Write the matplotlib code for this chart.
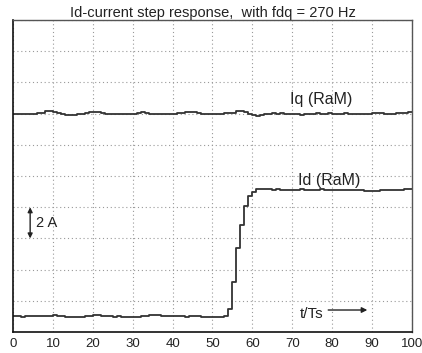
import matplotlib
matplotlib.use("Agg")
import matplotlib.pyplot as plt
import numpy as np

t_samples = list(range(0, 101))

iq_ram = [
    14.00, 14.00, 13.98, 14.00, 14.00, 13.99, 14.02, 14.05, 14.15, 14.15,
    14.12, 14.05, 13.95, 13.92, 13.92, 13.93, 13.95, 14.00, 14.05, 14.08,
    14.12, 14.10, 14.05, 14.00, 13.98, 13.97, 13.98, 13.98, 14.00, 13.98,
    14.00, 14.05, 14.08, 14.03, 14.00, 13.97, 13.95, 13.96, 13.97, 13.98,
    14.00, 14.02, 14.05, 14.08, 14.10, 14.08, 14.03, 14.00, 13.98, 13.98,
    14.00, 13.99, 14.00, 14.02, 14.03, 14.06, 14.15, 14.20, 14.10, 13.98,
    13.90, 13.85, 13.92, 13.97, 14.00, 14.02, 14.00, 14.03, 14.00, 13.98,
    13.96, 13.95, 13.92, 13.95, 13.98, 14.00, 14.02, 14.00, 14.01, 14.03,
    14.00, 13.98, 14.00, 14.02, 14.00, 13.98, 13.97, 13.99, 14.01, 14.00,
    14.03, 14.05, 14.02, 14.00, 13.98, 14.00, 14.02, 14.04, 14.06, 14.08,
    14.08,
]

id_ram = [
    1.00, 1.00, 0.99, 1.00, 1.00, 1.01, 1.00, 1.02, 1.04, 1.05,
    1.06, 1.05, 1.02, 0.98, 0.95, 0.95, 0.96, 0.97, 1.00, 1.05,
    1.08, 1.06, 1.03, 1.00, 1.00, 0.99, 1.00, 0.98, 0.97, 0.96,
    0.95, 0.97, 1.00, 1.04, 1.07, 1.08, 1.06, 1.03, 1.00, 1.00,
    1.00, 1.01, 1.00, 0.99, 1.00, 1.00, 1.00, 0.99, 0.98, 0.98,
    0.98, 0.98, 0.99, 1.00, 1.47, 3.20, 5.40, 6.86, 8.08, 8.70,
    9.00, 9.15, 9.20, 9.18, 9.15, 9.12, 9.14, 9.12, 9.10, 9.12,
    9.10, 9.12, 9.14, 9.10, 9.08, 9.10, 9.12, 9.14, 9.12, 9.10,
    9.10, 9.12, 9.10, 9.08, 9.10, 9.12, 9.10, 9.08, 9.06, 9.05,
    9.05, 9.07, 9.10, 9.12, 9.10, 9.08, 9.10, 9.12, 9.14, 9.15,
    9.15,
]

x_ticks = [0, 10, 20, 30, 40, 50, 60, 70, 80, 90, 100]
y_grid = [0, 2, 4, 6, 8, 10, 12, 14, 16, 18, 20]

plt.rcParams['font.family'] = ['Liberation Sans', 'DejaVu Sans']

fig = plt.figure(figsize=(4.22, 3.53), dpi=100)
ax = fig.add_axes([0.0308, 0.0595, 0.9455, 0.8835])

line_col = '#333333'
ax.step(t_samples, iq_ram, where='post', color=line_col, lw=1.3)
ax.step(t_samples, id_ram, where='post', color=line_col, lw=1.3)

ax.set_xlim(0, 100)
ax.set_ylim(0, 20)
ax.set_xticks(x_ticks)
ax.set_xticklabels([str(v) for v in x_ticks], fontsize=9.5, color='#222222')
ax.set_yticks(y_grid)
ax.set_yticklabels([])
ax.tick_params(axis='both', length=0, pad=4)
ax.grid(True, linestyle=(0, (1, 2.5)), color='#999999', linewidth=0.8)

for side in ['left', 'bottom']:
    ax.spines[side].set_color('#111111')
    ax.spines[side].set_linewidth(1.2)
for side in ['top', 'right']:
    ax.spines[side].set_color('#555555')
    ax.spines[side].set_linewidth(1.0)

ax.set_title('Id-current step response,  with fdq = 270 Hz', fontsize=10.5, color='#222222', pad=2)

ax.text(69.4, 14.9, 'Iq (RaM)', fontsize=11.5, color='#222222', va='center', ha='left')
ax.text(71.4, 9.74, 'Id (RaM)', fontsize=11.5, color='#222222', va='center', ha='left')
ax.text(5.8, 7.0, '2 A', fontsize=10.5, color='#222222', va='center', ha='left')
ax.annotate('', xy=(4.3, 8.0), xytext=(4.3, 6.0),
            arrowprops=dict(arrowstyle='<|-|>', color='#222222', lw=1.0,
                            mutation_scale=7, shrinkA=0, shrinkB=0))
ax.text(71.8, 1.15, 't/Ts', fontsize=11, color='#222222', va='center', ha='left')
ax.annotate('', xy=(88.8, 1.41), xytext=(79.0, 1.41),
            arrowprops=dict(arrowstyle='-|>', color='#222222', lw=1.0,
                            mutation_scale=8, shrinkA=0, shrinkB=0))

fig.savefig('out.png', dpi=100)
